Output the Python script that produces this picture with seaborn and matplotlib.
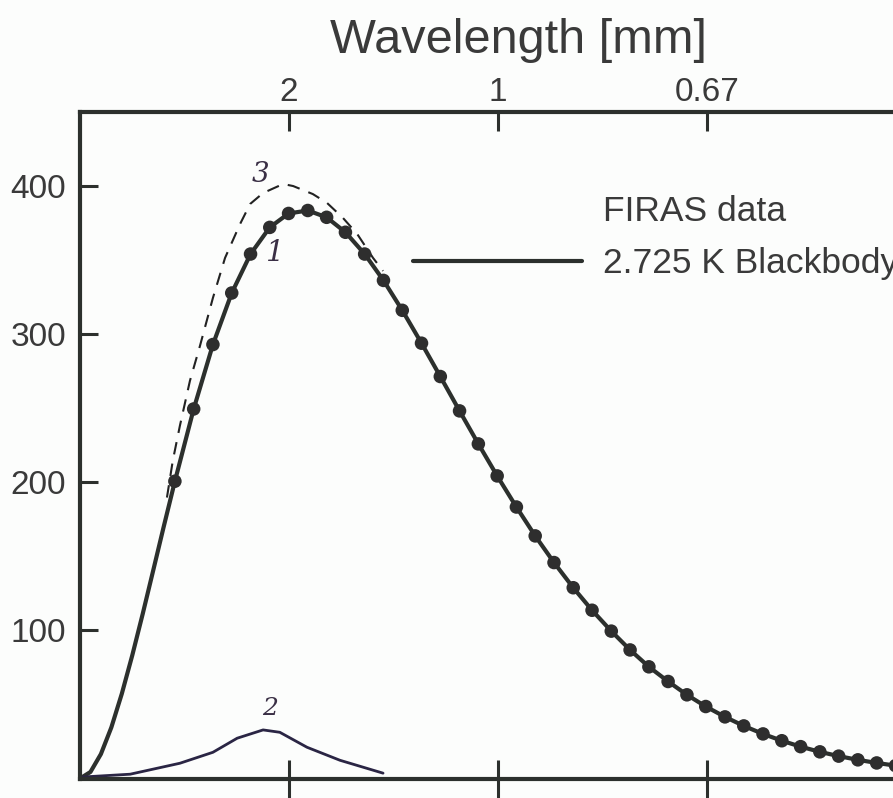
import matplotlib
matplotlib.use("Agg")
import matplotlib.pyplot as plt
import seaborn as sns
from matplotlib.lines import Line2D

# FIRAS spectrum, wavenumber [1/cm] vs intensity [MJy/sr]
firas_nu = [2.27, 2.72, 3.18, 3.63, 4.08, 4.54, 4.99, 5.45, 5.90, 6.35, 6.81,
            7.26, 7.71, 8.17, 8.62, 9.08, 9.53, 9.98, 10.44, 10.89, 11.34,
            11.80, 12.25, 12.71, 13.16, 13.61, 14.07, 14.52, 14.97, 15.43,
            15.88, 16.34, 16.79, 17.24, 17.70, 18.15, 18.61, 19.06, 19.51,
            19.97, 20.42, 20.87, 21.33]
firas_I = [200.7, 249.5, 293.0, 327.8, 354.1, 372.1, 381.5, 383.5, 378.9,
           368.8, 354.1, 336.3, 316.1, 293.9, 271.4, 248.2, 225.9, 204.3,
           183.3, 163.8, 145.8, 128.8, 113.6, 99.5, 86.8, 75.4, 65.5, 56.5,
           48.6, 41.6, 35.5, 30.1, 25.5, 21.5, 18.0, 15.1, 12.6, 10.5, 8.7,
           7.2, 6.0, 4.9, 4.0]

# blackbody curve below the first data point
low_nu = [0.0, 0.25, 0.5, 0.75, 1.0, 1.25, 1.5, 1.75, 2.0]
low_I = [0.0, 4.4, 16.5, 34.5, 57.2, 83.1, 111.1, 140.3, 169.7]

# hand drawn curve "3" (dashed)
c3_nu = [2.08, 2.22, 2.39, 2.63, 2.87, 3.18, 3.47, 3.83, 4.07, 4.38, 4.86,
         5.10, 5.57, 5.91, 6.29, 6.63, 7.01, 7.25]
c3_I = [189.7, 214.6, 238.2, 268.5, 292.1, 324.5, 351.5, 374.4, 387.9, 395.3,
        401.4, 400.0, 394.6, 388.6, 378.5, 367.7, 351.5, 342.7]

# hand drawn curve "2"
c2_nu = [0.0, 1.20, 2.39, 3.18, 3.76, 4.38, 4.78, 5.43, 6.22, 7.25]
c2_I = [0.9, 2.9, 10.3, 17.7, 27.2, 32.8, 31.2, 21.1, 12.3, 3.6]

wl_labels = ["2", "1", "0.67"]
wl_mm = [2.0, 1.0, 0.667]
y_ticks = [100, 200, 300, 400]

sns.set_style("white")
plt.rcParams["font.family"] = ["Liberation Sans", "DejaVu Sans"]

ink = "#2c302d"
txt = "#3a3a3a"
bg = "#fcfdfc"

fig = plt.figure(figsize=(8.93, 7.98), dpi=100, facecolor=bg)
ax = fig.add_axes([80 / 893, 19.5 / 798, 877.8 / 893, 666.5 / 798])
ax.set_facecolor(bg)

curve_nu = low_nu + firas_nu
curve_I = low_I + firas_I
sns.lineplot(x=curve_nu, y=curve_I, ax=ax, color=ink, lw=3,
             sort=False, estimator=None)
sns.scatterplot(x=firas_nu, y=firas_I, ax=ax, color="#2e2e2e", s=95,
                edgecolor="none", zorder=3)
sns.lineplot(x=c3_nu, y=c3_I, ax=ax, color="#222222", lw=1.5,
             sort=False, estimator=None)
ax.lines[-1].set_dashes((6, 4.5))
sns.lineplot(x=c2_nu, y=c2_I, ax=ax, color="#2a2544", lw=2,
             sort=False, estimator=None)

hand = dict(family="DejaVu Serif", style="italic", color="#3a2f45",
            ha="center", va="center")
ax.text(4.31, 408, "3", fontsize=20, **hand)
ax.text(4.67, 355, "1", fontsize=21, **hand)
ax.text(4.55, 47, "2", fontsize=18, **hand)

ax.set_xlim(0, 21)
ax.set_ylim(0, 450)
ax.set_xticks([5, 10, 15])
ax.set_yticks(y_ticks)
ax.set_yticklabels([str(v) for v in y_ticks])
ax.tick_params(axis="x", direction="inout", length=27, width=2.2,
               color=ink, labelbottom=False, top=False, bottom=True)
ax.tick_params(axis="y", direction="in", length=13, width=2.2, color=ink,
               labelsize=24, labelcolor=txt, pad=10, left=True)
for side in ["left", "bottom", "top"]:
    ax.spines[side].set_linewidth(3)
    ax.spines[side].set_color(ink)
ax.spines["right"].set_visible(False)

ax2 = ax.twiny()
ax2.set_xlim(ax.get_xlim())
ax2.set_xticks([10 / w for w in wl_mm])
ax2.set_xticklabels(wl_labels)
ax2.tick_params(axis="x", direction="in", length=14, width=2.2, color=ink,
                labelsize=24, labelcolor=txt, pad=3)
for s in ax2.spines.values():
    s.set_visible(False)
ax2.set_xlabel("Wavelength [mm]", fontsize=35, color=txt, labelpad=17)

handles = [Line2D([], [], linestyle="none"),
           Line2D([], [], color=ink, lw=3)]
ax.legend(handles, ["FIRAS data", "2.725 K Blackbody"], loc="upper left",
          bbox_to_anchor=(413 / 893, 1 - 195 / 798),
          bbox_transform=fig.transFigure, frameon=False, fontsize=25.5,
          handlelength=4.77, handletextpad=0.59, labelspacing=0.55,
          borderpad=0, borderaxespad=0, labelcolor=txt)

fig.savefig("out.png", dpi=100, facecolor=bg)
